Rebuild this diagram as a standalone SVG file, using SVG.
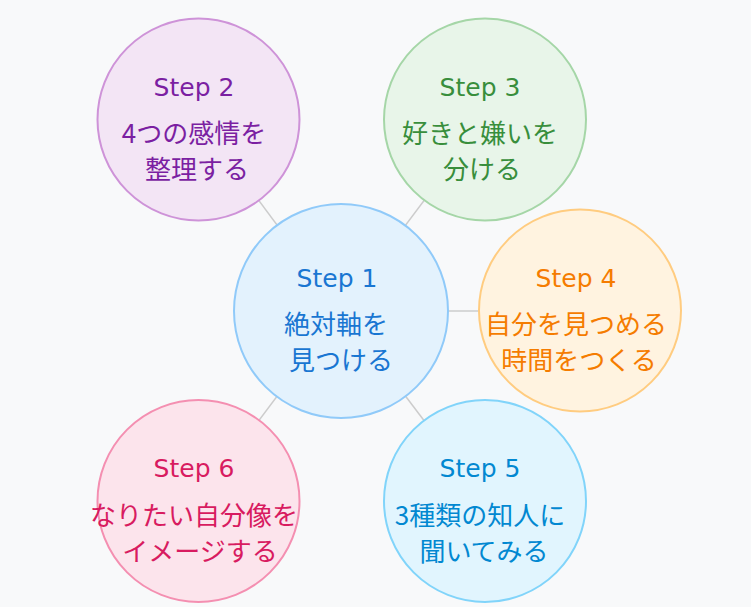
<svg xmlns="http://www.w3.org/2000/svg" width="751" height="607" viewBox="0 0 751 607">
<style>
.bg{fill:#f8f9fa}
.conn line{stroke:#cccccc;stroke-width:1.5}
circle{stroke-width:2}
text{text-anchor:middle;font-family:"DejaVu Sans","Noto Sans CJK JP",sans-serif}
.st{font-size:25px}
.jp{font-size:26px;font-family:"Noto Sans CJK JP",sans-serif}
#s1 circle{fill:#e3f2fd;stroke:#90caf9}#s1 text{fill:#1976d2}
#s2 circle{fill:#f3e5f5;stroke:#ce93d8}#s2 text{fill:#7b1fa2}
#s3 circle{fill:#e8f5e9;stroke:#a5d6a7}#s3 text{fill:#388e3c}
#s4 circle{fill:#fff3e0;stroke:#ffcc80}#s4 text{fill:#f57c00}
#s5 circle{fill:#e1f5fe;stroke:#81d4fa}#s5 text{fill:#0288d1}
#s6 circle{fill:#fce4ec;stroke:#f48fb1}#s6 text{fill:#d81b60}
</style>
<rect class="bg" x="0" y="0" width="751" height="607"/>
<g id="connectors" class="conn">
<line x1="341" y1="311" x2="198.5" y2="119.5"/>
<line x1="341" y1="311" x2="485" y2="119.5"/>
<line x1="341" y1="311" x2="580" y2="311"/>
<line x1="341" y1="311" x2="485" y2="501"/>
<line x1="341" y1="311" x2="198.5" y2="501"/>
</g>
<g id="s1">
<circle cx="341" cy="311" r="107"/>
<text class="st" x="337" y="287">Step 1</text>
<text class="jp" x="336" y="334">絶対軸を</text>
<text class="jp" x="341" y="370">見つける</text>
</g>
<g id="s2">
<circle cx="198.5" cy="119.5" r="101"/>
<text class="st" x="194" y="96">Step 2</text>
<text class="jp" x="194" y="143">4つの感情を</text>
<text class="jp" x="197" y="179">整理する</text>
</g>
<g id="s3">
<circle cx="485" cy="119.5" r="101"/>
<text class="st" x="480" y="96">Step 3</text>
<text class="jp" x="480" y="143">好きと嫌いを</text>
<text class="jp" x="482" y="179">分ける</text>
</g>
<g id="s4">
<circle cx="580" cy="310.5" r="101"/>
<text class="st" x="576" y="287">Step 4</text>
<text class="jp" x="576" y="334">自分を見つめる</text>
<text class="jp" x="579" y="370">時間をつくる</text>
</g>
<g id="s5">
<circle cx="485" cy="501" r="101"/>
<text class="st" x="480" y="477">Step 5</text>
<text class="jp" x="480" y="525">3種類の知人に</text>
<text class="jp" x="484" y="561">聞いてみる</text>
</g>
<g id="s6">
<circle cx="198.5" cy="501" r="101"/>
<text class="st" x="194" y="477">Step 6</text>
<text class="jp" x="194" y="525">なりたい自分像を</text>
<text class="jp" x="200" y="561">イメージする</text>
</g>
</svg>
